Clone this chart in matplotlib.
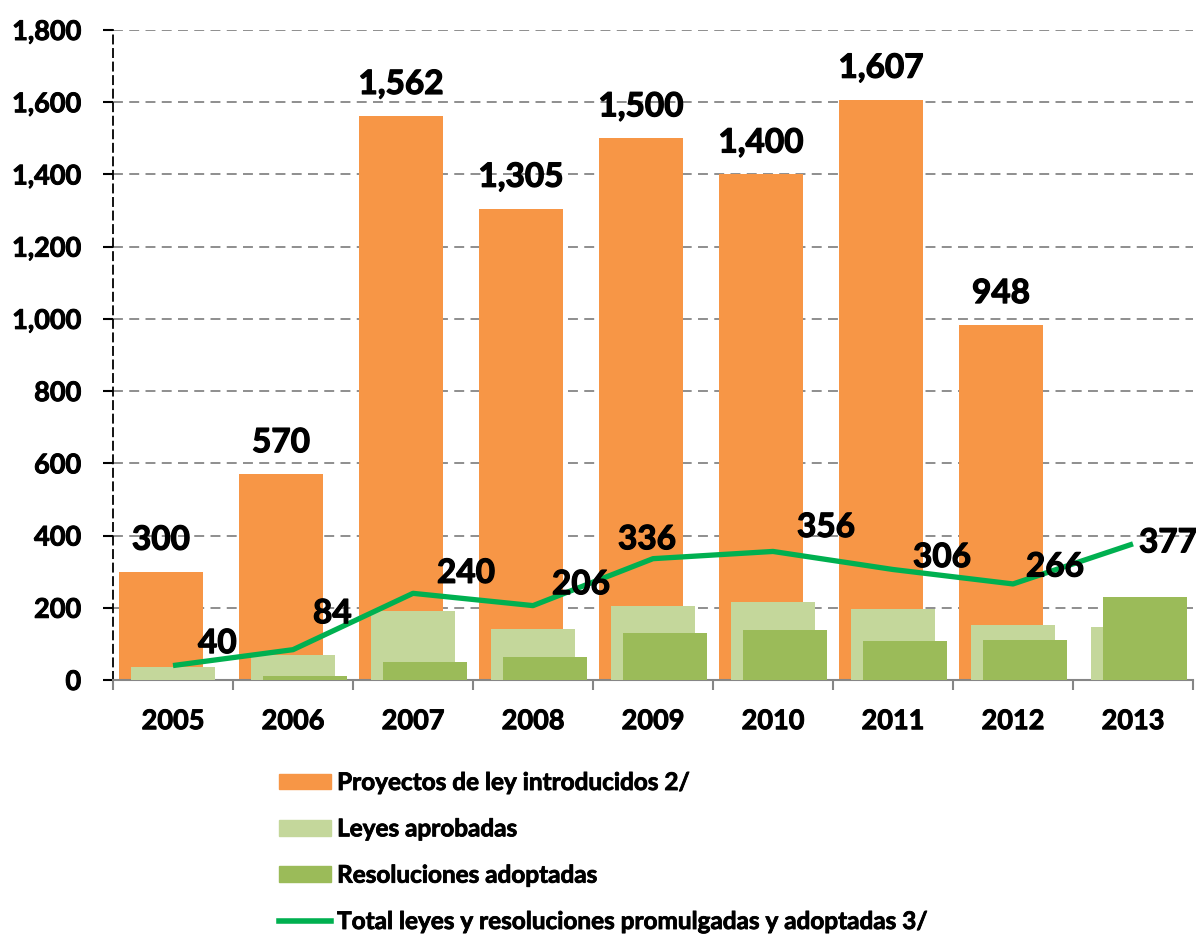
import matplotlib
matplotlib.use("Agg")
import matplotlib.pyplot as plt
import matplotlib.patheffects as pe
import numpy as np
from matplotlib.ticker import FuncFormatter, FixedLocator
from matplotlib.patches import Patch
from matplotlib.lines import Line2D

plt.rcParams['font.family'] = ['Lato', 'DejaVu Sans']
plt.rcParams['font.weight'] = 'bold'

years = ['2005', '2006', '2007', '2008', '2009', '2010', '2011', '2012', '2013']
proyectos = [300, 570, 1562, 1305, 1500, 1400, 1607, 983, np.nan]
proyectos_labels = ['300', '570', '1,562', '1,305', '1,500', '1,400', '1,607', '948', '']
leyes = [35, 70, 190, 142, 204, 217, 197, 153, 146]
resoluciones = [0, 12, 49, 63, 130, 138, 108, 110, 230]
total = [40, 84, 240, 206, 336, 356, 306, 266, 377]

# label offsets in pixels (left edge, vertical center) for line labels
line_label_offsets = [(25, 22), (20, 36), (24, 20), (19, 21), (-35, 19),
                      (24, 24), (20, 12), (13, 17), (6, 1)]

c_orange = '#F79646'
c_light = '#C4D79B'
c_dark = '#9BBB59'
c_line = '#00B050'
grid_c = '#868686'

bold_fx = [pe.withStroke(linewidth=0.9, foreground='black')]

W, H = 1196, 934
fig = plt.figure(figsize=(W / 100, H / 100), dpi=100)
ax = fig.add_axes([113 / W, (H - 680) / H, 1080 / W, 650 / H])

x = np.arange(len(years))
bw = 0.70
ax.bar(x - 0.1, proyectos, width=bw, color=c_orange, zorder=2)
ax.bar(x, leyes, width=bw, color=c_light, zorder=3)
ax.bar(x + 0.1, resoluciones, width=bw, color=c_dark, zorder=4)
ax.plot(x, total, color=c_line, lw=3.8, zorder=5, solid_capstyle='butt')

for xi, v, lab in zip(x, proyectos, proyectos_labels):
    if lab:
        ax.annotate(lab, (xi - 0.1, v), xytext=(0, 22), textcoords='offset pixels',
                    ha='center', va='baseline', fontsize=24, fontweight='bold', zorder=6,
                    path_effects=bold_fx)

for xi, v, (dx, dy) in zip(x, total, line_label_offsets):
    ax.annotate(str(v), (xi, v), xytext=(dx, dy), textcoords='offset pixels',
                ha='left', va='center', fontsize=24, fontweight='bold', zorder=6,
                path_effects=bold_fx)

ax.set_xlim(-0.5, len(years) - 0.5)
ax.set_ylim(0, 1800)
ax.yaxis.set_major_locator(FixedLocator(np.arange(0, 1801, 200)))
ax.yaxis.set_major_formatter(FuncFormatter(lambda v, p: f'{v:,.0f}'))
ax.set_xticks(x)
ax.set_xticklabels(years)
ax.xaxis.set_minor_locator(FixedLocator(np.arange(-0.5, len(years), 1.0)))

ax.tick_params(axis='x', which='major', length=0, pad=21, labelsize=19.5)
ax.tick_params(axis='x', which='minor', length=7, width=1.5, color=grid_c, direction='out')
ax.tick_params(axis='y', which='major', length=7, width=1.5, color='black', pad=16, labelsize=19.5)
for lab in ax.get_xticklabels() + ax.get_yticklabels():
    lab.set_fontweight('bold')
    lab.set_path_effects([pe.withStroke(linewidth=0.7, foreground='black')])

ax.grid(axis='y', color=grid_c, linestyle=(0, (5.5, 3.5)), linewidth=1.3, zorder=0)
ax.set_axisbelow(True)
for s in ['top', 'right']:
    ax.spines[s].set_visible(False)
ax.spines['left'].set_linestyle((0, (4.5, 3)))
ax.spines['left'].set_linewidth(1.3)
ax.spines['left'].set_color('black')
ax.spines['bottom'].set_color(grid_c)
ax.spines['bottom'].set_linewidth(1.5)

handles = [Patch(color=c_orange), Patch(color=c_light), Patch(color=c_dark),
           Line2D([0], [0], color=c_line, lw=4)]
labels = ['Proyectos de ley introducidos 2/', 'Leyes aprobadas', 'Resoluciones adoptadas',
          'Total leyes y resoluciones promulgadas y adoptadas 3/']
leg = fig.legend(handles, labels, loc='upper left', bbox_to_anchor=(279 / W, (H - 771) / H),
                 frameon=False, handlelength=2.14, handleheight=0.62,
                 handletextpad=0.25, labelspacing=0.96, borderpad=0, borderaxespad=0,
                 prop={'weight': 'bold', 'size': 17.5})
for t in leg.get_texts():
    t.set_path_effects([pe.withStroke(linewidth=0.6, foreground='black')])

fig.savefig('out.png', dpi=100)
